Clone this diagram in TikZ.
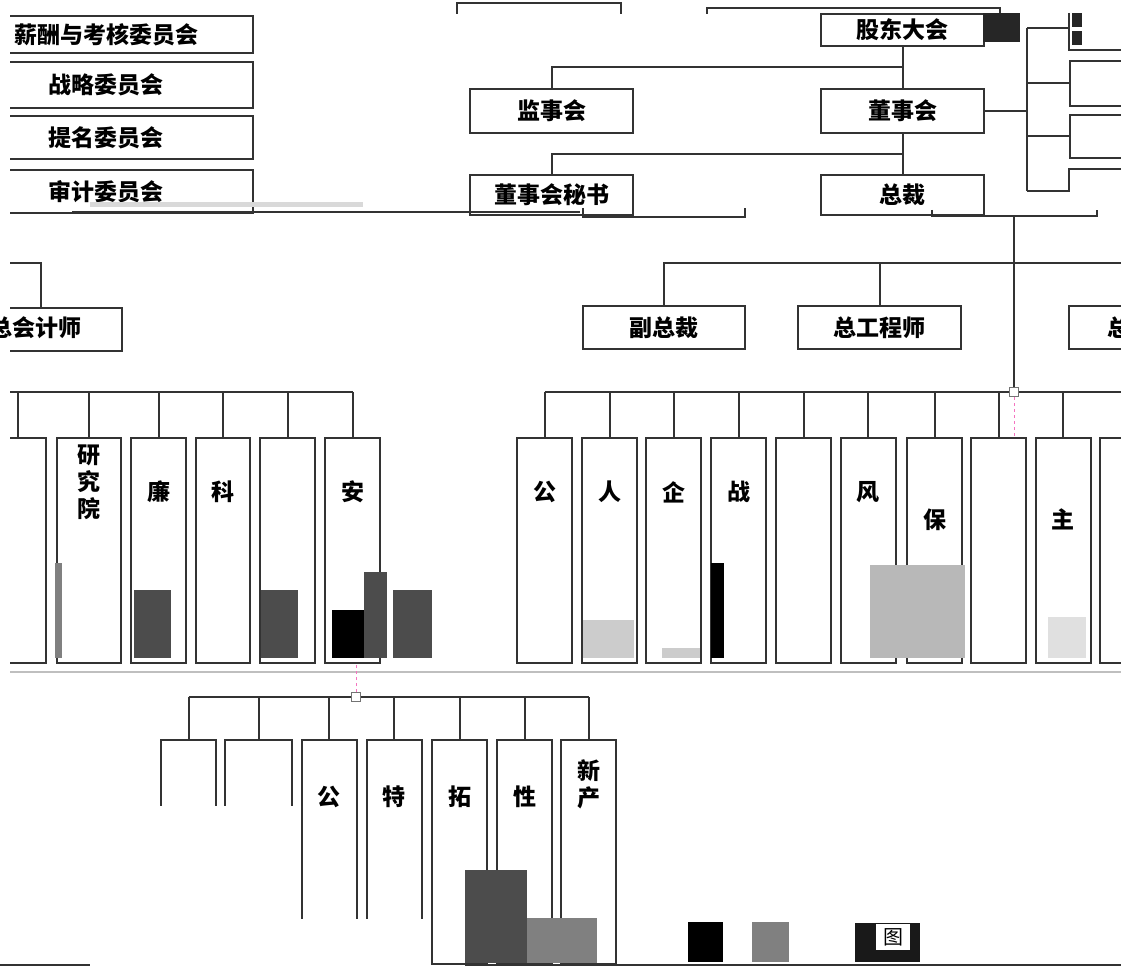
\documentclass[tikz,border=0pt]{standalone}
\usepackage{fontspec}
\newfontfamily\cjk{Noto Sans CJK SC}
\usetikzlibrary{calc}

\tikzset{
  box/.style={draw=black!80, line width=2pt, fill=white, inner sep=0pt, anchor=north west,
    font=\cjk\bfseries\fontsize{23}{27}\selectfont},
  wire/.style={draw=black!80, line width=2pt},
  dept/.style={box, anchor=north, minimum width=55pt, minimum height=225pt},
  vlab/.style={font=\cjk\bfseries\fontsize{23}{27}\selectfont, align=center, anchor=north, inner sep=0pt},
  hub/.style={draw=black!55, fill=white, minimum size=9pt, inner sep=0pt, line width=1pt},
  sel/.style={draw=magenta!55, dashed, line width=1pt},
}

\begin{document}
\begin{tikzpicture}[x=1pt, y=-1pt]
    \useasboundingbox (0,0) rectangle (1121,968);

    % top strip
    \draw [wire] (457,14) |- (621,3) -- (621,14);
    \draw [wire] (707,14) |- (1000,8) -- (1000,14);

    \node [box, minimum width=163pt, minimum height=32pt] (gd) at (820,13) {股东大会};
    \node [box, minimum width=163pt, minimum height=44pt] (js) at (469,88) {监事会};
    \node [box, minimum width=163pt, minimum height=44pt] (ds) at (820,88) {董事会};
    \node [box, minimum width=163pt, minimum height=40pt] (dm) at (469,174) {董事会秘书};
    \node [box, minimum width=163pt, minimum height=40pt] (zc) at (820,174) {总裁};

    \draw [wire] (gd) -- (ds);
    \draw [wire] (ds) -- (zc);
    \draw [wire] (js.north) |- ($(gd.south)!0.5!(ds.north)$);
    \draw [wire] (dm.north) |- ($(ds.south)!0.5!(zc.north)$);

    \fill [black!85] (983,13) rectangle (1020,42);

    % board committees, right copy
    \node [box, minimum width=80pt, minimum height=45pt] (ra) at (1069,60) {};
    \node [box, minimum width=80pt, minimum height=43pt] (rb) at (1069,114) {};
    \coordinate (rtop) at (1027,28);
    \coordinate (rbot) at (1027,191);
    \draw [wire] (rtop) -- (rbot);
    \draw [wire] (ds.east) -- (ds.east -| rtop);
    \draw [wire] (rtop) -- (1069,28);
    \draw [wire] (rtop |- ra.west) -- (ra.west);
    \draw [wire] (rtop |- rb.west) -- (rb.west);
    \draw [wire] (rbot) -- (1069,191) |- (1121,169);
    \draw [wire] (1069,13) |- (1121,50);
    \fill [black!85] (1072,13) rectangle (1082,27);
    \fill [black!85] (1072,31) rectangle (1082,45);

    % board committees, left
    \begin{scope}
    \clip (10,0) rectangle (1121,968);
    \node [box, minimum width=294pt, minimum height=37pt] (xc) at (-42,15) {薪酬与考核委员会};
    \node [box, minimum width=294pt, minimum height=46pt] (zl) at (-42,61) {战略委员会};
    \node [box, minimum width=294pt, minimum height=43pt] (tm) at (-42,115) {提名委员会};
    \node [box, minimum width=294pt, minimum height=43pt] (sj) at (-42,169) {审计委员会};
    \node [box, minimum width=162pt, minimum height=43pt] (kj) at (-41,307) {};
    \end{scope}

    \fill [black!15] (90,202) rectangle (363,207);
    \draw [wire] (72,212) -- (580,212);
    \draw [wire] (583,208) |- (745,217) -- (745,208);
    \draw [wire] (932,210) |- (1097,216) -- (1097,210);

    % vice presidents
    \node [box, minimum width=162pt, minimum height=43pt] (vp) at (582,305) {副总裁};
    \node [box, minimum width=163pt, minimum height=43pt] (zg) at (797,305) {总工程师};
    \node [box, minimum width=100pt, minimum height=43pt] (zq) at (1068,305) {总};
    \node [vlab, anchor=center] (kjt) at (36,328) {总会计师};

    \coordinate (vbus) at (1121,263);
    \draw [wire] (vp.north) |- (vbus);
    \draw [wire] (zg.north) -- (zg.north |- vbus);
    \draw [wire] (10,263) -| (kj.north);

    % departments
    \node [hub] (hb) at (1014,392) {};
    \draw [wire] (1014,216) -- (hb);

    \foreach \x [count=\i] in {544.5,609.5,673.5,738.5,803.5,868,934.5,998.5,1063,1127.5} {
        \node [dept] (r\i) at (\x,437) {};
        \draw [wire] (r\i.north) -- (r\i.north |- hb);
    }
    \draw [wire] (r1.north |- hb) -- (hb) -- (1121,392);

    \begin{scope}
    \clip (10,0) rectangle (1121,968);
    \foreach \x/\w [count=\i] in {18/56,89/64,158.5/55,223/54,287.5/55,352.5/55} {
        \node [dept, minimum width=\w pt] (l\i) at (\x,437) {};
        \draw [wire] (l\i.north) -- (l\i.north |- hb);
    }
    \end{scope}
    \draw [wire] (10,392) -- (l6.north |- hb);
    \node [hub] at (hb) {};
    \draw [sel] (hb) -- (hb |- r8.north);

    \foreach \i/\t in {1/公,2/人,3/企,4/战,6/风}
        \node [vlab] (rt\i) at ($(r\i.north)+(0,44)$) {\t};
    \foreach \i/\t in {7/保,9/主}
        \node [vlab] (rt\i) at ($(r\i.north)+(0,72)$) {\t};
    \node [vlab] (lt2) at ($(l2.north)+(0,8)$) {研\\究\\院};
    \foreach \i/\t in {3/廉,4/科,6/安}
        \node [vlab] (lt\i) at ($(l\i.north)+(0,44)$) {\t};

    % noise
    \fill [black!70] (134,590) rectangle (171,658);
    \fill [black!70] (261,590) rectangle (298,658);
    \fill [black] (332,610) rectangle (364,658);
    \fill [black!70] (364,572) rectangle (387,658);
    \fill [black!70] (393,590) rectangle (432,658);
    \fill [black!50] (55,563) rectangle (62,658);
    \fill [black!20] (583,620) rectangle (634,658);
    \fill [black] (711,563) rectangle (724,658);
    \fill [black!28] (870,565) rectangle (965,658);
    \fill [black!12] (1048,617) rectangle (1086,658);
    \fill [black!20] (662,648) rectangle (700,658);
    \draw [black!25, line width=1.5pt] (10,672) -- (1121,672);

    % subsidiaries
    \node [hub] (hb2) at (356,697) {};
    \draw [sel] (hb2) -- (hb2 |- l6.south);

    \begin{scope}
    \clip (0,0) rectangle (300,805);
    \node [dept, minimum height=224pt] (b1) at (188.5,739) {};
    \node [dept, minimum height=224pt, minimum width=67pt] (b2) at (258.5,739) {};
    \end{scope}
    \begin{scope}
    \clip (300,0) rectangle (430,918);
    \node [dept, minimum height=224pt] (b3) at (329,739) {};
    \node [dept, minimum height=224pt] (b4) at (394,739) {};
    \end{scope}
    \node [dept, minimum height=224pt] (b5) at (459.5,739) {};
    \node [dept, minimum height=224pt] (b6) at (524.5,739) {};
    \node [dept, minimum height=224pt] (b7) at (588.5,739) {};

    \foreach \i in {1,...,7}
        \draw [wire] (b\i.north) -- (b\i.north |- hb2);
    \draw [wire] (b1.north |- hb2) -- (b7.north |- hb2);
    \node [hub] at (hb2) {};

    \foreach \i/\t in {3/公,4/特,5/拓,6/性}
        \node [vlab] (bt\i) at ($(b\i.north)+(0,47)$) {\t};
    \node [vlab] (bt7) at ($(b7.north)+(0,20)$) {新\\产};

    \fill [black!70] (465,870) rectangle (527,963);
    \fill [black!50] (527,918) rectangle (597,963);
    \fill [black] (688,922) rectangle (723,962);
    \fill [black!50] (752,922) rectangle (789,962);
    \fill [black!90] (855,923) rectangle (920,962);
    \fill [white] (876,924) rectangle (910,950);
    \node [vlab, anchor=center, font=\cjk\fontsize{20}{22}\selectfont] (tu) at (893,937) {图};
    \draw [wire] (465,965) -- (1121,965);
    \draw [wire] (0,965) -- (90,965);

\end{tikzpicture}
\end{document}
